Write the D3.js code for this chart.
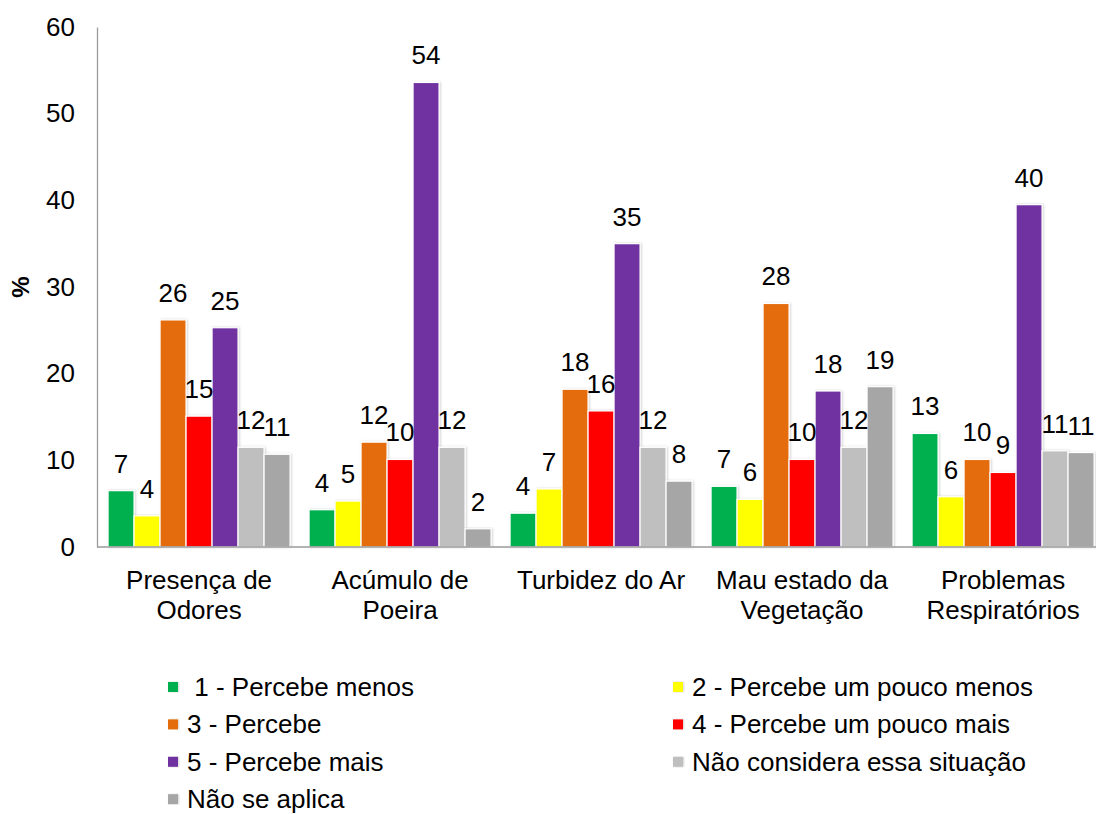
<!DOCTYPE html>
<html>
<head>
<meta charset="utf-8">
<script src="https://cdn.jsdelivr.net/npm/d3@7"></script>
<style>
  html, body { margin: 0; padding: 0; background: #fff; }
  svg { display: block; font-family: Arial, "Liberation Sans", sans-serif; }
</style>
</head>
<body>
<svg id="chart" width="1096" height="814"></svg>
<script>
// Perception of environmental situations (%), by answer level
const categories = [
  ["Presença de", "Odores"],
  ["Acúmulo de", "Poeira"],
  ["Turbidez do Ar"],
  ["Mau estado da", "Vegetação"],
  ["Problemas", "Respiratórios"]
];
const seriesNames = [
  " 1 - Percebe menos",
  "2 - Percebe um pouco menos",
  "3 - Percebe",
  "4 - Percebe um pouco mais",
  "5 - Percebe mais",
  "Não considera essa situação",
  "Não se aplica"
];
const seriesColors = ["#00B050", "#FFFF00", "#E46C0A", "#FF0000", "#7030A0", "#BFBFBF", "#A6A6A6"];

const s1 = [6.5, 4.3, 3.9, 7.0, 13.1];
const s2 = [3.6, 5.3, 6.7, 5.5, 5.8];
const s3 = [26.2, 12.1, 18.2, 28.1, 10.1];
const s4 = [15.1, 10.1, 15.7, 10.1, 8.6];
const s5 = [25.3, 53.6, 35.0, 18.0, 39.5];
const s6 = [11.5, 11.5, 11.5, 11.5, 11.1];
const s7 = [10.7, 2.1, 7.6, 18.5, 10.9];
const seriesValues = [s1, s2, s3, s4, s5, s6, s7];

const yTicks = [0, 10, 20, 30, 40, 50, 60];

const FONT = 26;
const svg = d3.select("#chart");

const defs = svg.append("defs");
const shadow = defs.append("filter").attr("id", "soft").attr("x", "-20%").attr("y", "-5%").attr("width", "140%").attr("height", "110%");
shadow.append("feDropShadow").attr("dx", 1).attr("dy", 0).attr("stdDeviation", 1.2)
  .attr("flood-color", "#000").attr("flood-opacity", 0.18);

const plotLeft = 97, plotTop = 27, plotBottom = 547;

const y = d3.scaleLinear().domain([0, 60]).range([plotBottom, plotTop]);

const x0 = d3.scaleBand()
  .domain(d3.range(categories.length))
  .range([plotLeft, plotLeft + 201 * (categories.length - 0.0945 + 0.11)])
  .paddingInner(0.0945)
  .paddingOuter(0.055);

const x1 = d3.scaleBand()
  .domain(d3.range(seriesNames.length))
  .range([0, x0.bandwidth()])
  .padding(0);

// y axis
const yAxis = svg.append("g").attr("transform", `translate(${plotLeft},0)`)
  .call(d3.axisLeft(y).tickValues(yTicks).tickSize(0).tickPadding(22));
yAxis.select(".domain").attr("stroke", "#9a9a9a").attr("stroke-width", 1.3);
yAxis.selectAll("text").attr("font-size", FONT).attr("fill", "#000")
  .attr("font-family", "Arial, 'Liberation Sans', sans-serif");

svg.append("text")
  .attr("transform", `translate(29,${(plotTop + plotBottom) / 2}) rotate(-90)`)
  .attr("text-anchor", "middle")
  .attr("font-size", 24).attr("font-weight", "bold")
  .text("%");

// bars
const groups = svg.append("g").selectAll("g")
  .data(categories)
  .join("g")
  .attr("transform", (d, i) => `translate(${x0(i)},0)`);

groups.each(function(cat, ci) {
  const g = d3.select(this);
  const rows = seriesValues.map((vals, si) => ({ si, v: vals[ci] }));
  g.selectAll("rect")
    .data(rows)
    .join("rect")
    .attr("x", d => x1(d.si))
    .attr("y", d => y(d.v))
    .attr("width", x1.bandwidth())
    .attr("height", d => y(0) - y(d.v))
    .attr("fill", d => seriesColors[d.si])
    .attr("stroke", "#fff")
    .attr("stroke-width", 1.2)
    .attr("filter", "url(#soft)");
  g.selectAll("text.val")
    .data(rows)
    .join("text")
    .attr("class", "val")
    .attr("x", d => x1(d.si) + x1.bandwidth() / 2)
    .attr("y", d => y(d.v) - 18)
    .attr("text-anchor", "middle")
    .attr("font-size", FONT)
    .attr("fill", "#000")
    .text(d => Math.round(d.v));
});

// x axis baseline
svg.append("line")
  .attr("x1", plotLeft).attr("x2", x0.range()[1])
  .attr("y1", y(0)).attr("y2", y(0))
  .attr("stroke", "#9a9a9a").attr("stroke-width", 1.3);

// category labels
const catLabels = svg.append("g").selectAll("text")
  .data(categories)
  .join("text")
  .attr("text-anchor", "middle")
  .attr("font-size", FONT)
  .attr("fill", "#000");
catLabels.each(function(lines, i) {
  const t = d3.select(this);
  const cx = x0(i) + x0.bandwidth() / 2;
  lines.forEach((ln, k) => {
    t.append("tspan").attr("x", cx).attr("y", 589 + k * 30).text(ln);
  });
});

// legend
const legendCols = [168, 673];
const legend = svg.append("g").selectAll("g")
  .data(seriesNames)
  .join("g")
  .attr("transform", (d, i) => `translate(${legendCols[i % 2]},${687 + Math.floor(i / 2) * 37.4})`);
legend.append("rect")
  .attr("x", 0).attr("y", -5)
  .attr("width", 10).attr("height", 10)
  .attr("fill", (d, i) => seriesColors[i])
  .attr("filter", "url(#soft)");
legend.append("text")
  .attr("x", 19).attr("y", 9)
  .attr("font-size", FONT)
  .attr("fill", "#000")
  .style("white-space", "pre")
  .text(d => d);
</script>
</body>
</html>
